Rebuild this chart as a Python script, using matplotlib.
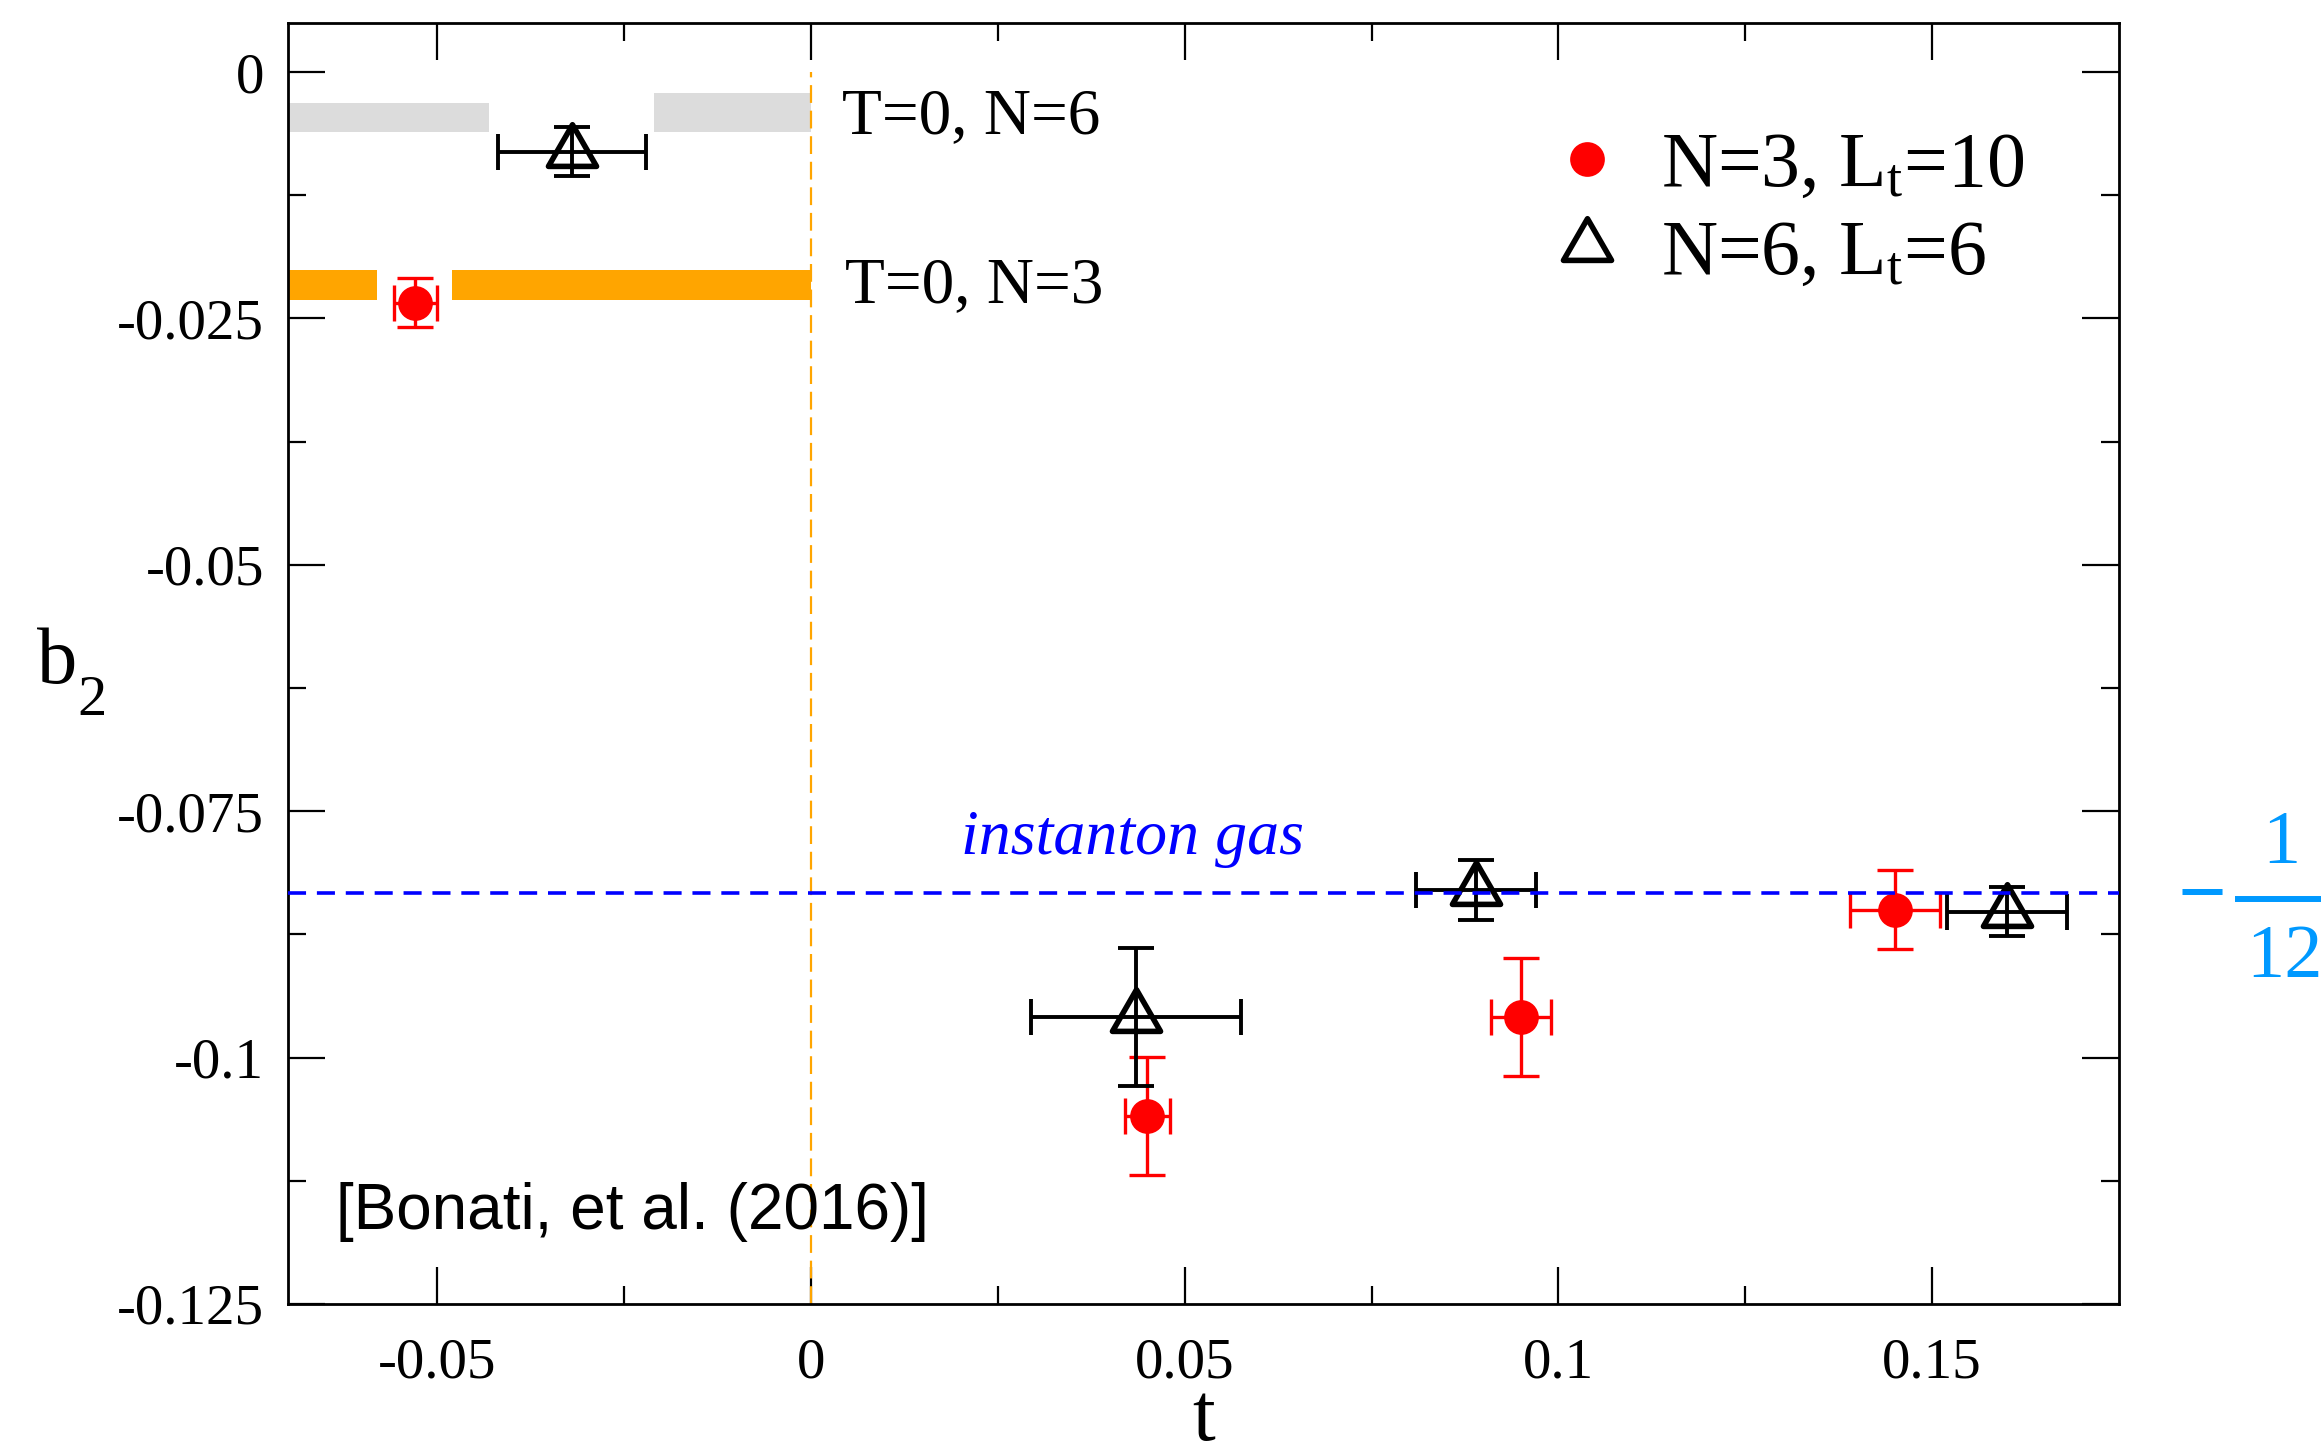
import matplotlib
matplotlib.use("Agg")
import matplotlib.pyplot as plt
from matplotlib.path import Path
from matplotlib.lines import Line2D

# DATA

# N=3, Lt=10 (red circles)
t_n3 = [-0.0529, 0.0450, 0.0950, 0.1450]
b_n3 = [-0.0234, -0.1059, -0.0959, -0.0850]
dt_n3 = [0.0029, 0.0030, 0.0040, 0.0060]
db_n3 = [0.0025, 0.0060, 0.0060, 0.0040]

# N=6, Lt=6 (open triangles)
t_n6 = [-0.0320, 0.0435, 0.0890, 0.1600]
b_n6 = [-0.0081, -0.0959, -0.0830, -0.0852]
dt_n6 = [0.0099, 0.0140, 0.0080, 0.0080]
db_n6 = [0.0025, 0.0070, 0.0030, 0.0025]

# T=0 bands: (t_start, t_end, lower, upper) pieces
band_n6 = [(-0.070, -0.043, -0.0061, -0.0031),
           (-0.021, 0.000, -0.0061, -0.0021)]
band_n3 = [(-0.070, -0.058, -0.0231, -0.0201),
           (-0.048, 0.000, -0.0231, -0.0201)]

instanton_gas = -1.0 / 12.0
t_zero = 0.0

xticks = [-0.05, 0.0, 0.05, 0.1, 0.15]
xtick_labels = ["-0.05", "0", "0.05", "0.1", "0.15"]
xminor = [-0.025, 0.025, 0.075, 0.125]
yticks = [0.0, -0.025, -0.05, -0.075, -0.1, -0.125]
ytick_labels = ["0", "-0.025", "-0.05", "-0.075", "-0.1", "-0.125"]
yminor = [-0.0125, -0.0375, -0.0625, -0.0875, -0.1125]

XLIM = (-0.07, 0.175)
YLIM = (-0.125, 0.005)

# STYLE

plt.rcParams.update({
    "font.family": ["Liberation Serif", "DejaVu Serif"],
    "mathtext.fontset": "custom",
    "mathtext.rm": "Liberation Serif",
    "mathtext.it": "Liberation Serif:italic",
    "mathtext.bf": "Liberation Serif:bold",
    "axes.unicode_minus": False,
})

RED = "#ff0000"
ORANGE = "#ffa500"
GREY = "#dcdcdc"
BLUE = "#0000ff"
LIGHTBLUE = "#0099ff"

TRIANGLE = Path([(0, 1), (-0.866, -0.5), (0.866, -0.5), (0, 1)],
                [Path.MOVETO, Path.LINETO, Path.LINETO, Path.CLOSEPOLY])
CIRCLE_MS = 25
TRI_MS = 40
TRI_MEW = 4.0

W, H = 2321, 1449
fig = plt.figure(figsize=(W / 100, H / 100), dpi=100)
ax = fig.add_axes([0.1239, 0.1001, 0.7891, 0.8842])

# bands for the T=0 results
for t0, t1, lo, hi in band_n6:
    ax.fill_between([t0, t1], lo, hi, color=GREY, lw=0, zorder=1)
for t0, t1, lo, hi in band_n3:
    ax.fill_between([t0, t1], lo, hi, color=ORANGE, lw=0, zorder=1)

ax.vlines(t_zero, YLIM[0], 0.0, color=ORANGE, lw=1.6,
          linestyles=(0, (8, 3.5)), zorder=2)

ax.errorbar(t_n3, b_n3, xerr=dt_n3, yerr=db_n3, fmt="none", ecolor=RED,
            elinewidth=2.4, capsize=13, capthick=2.4, zorder=4)
ax.plot(t_n3, b_n3, ls="none", marker="o", ms=CIRCLE_MS, mew=0, color=RED,
        zorder=5)
ax.errorbar(t_n6, b_n6, xerr=dt_n6, yerr=db_n6, fmt="none", ecolor="black",
            elinewidth=2.8, capsize=13, capthick=2.8, zorder=4)
ax.plot(t_n6, b_n6, ls="none", marker=TRIANGLE, ms=TRI_MS, mfc="none",
        mec="black", mew=TRI_MEW, zorder=5)

ax.axhline(instanton_gas, color=BLUE, lw=2.6, ls=(0, (5, 3)), zorder=6)

# annotations
ax.text(0.0042, -0.0062, "T=0, N=6", fontsize=47, ha="left", va="baseline")
ax.text(0.0046, -0.0233, "T=0, N=3", fontsize=47, ha="left", va="baseline")
ax.text(0.0430, -0.0793, "instanton gas", fontsize=46, style="italic",
        color=BLUE, ha="center", va="baseline")
ax.text(-0.0635, -0.1174, "[Bonati, et al. (2016)]", fontsize=46,
        family="Liberation Sans", ha="left", va="baseline")

# -1/12 written outside the frame, next to the instanton-gas line
fig.text(2178 / W, 1 - 921 / H, "\u2212", fontsize=62, fontweight="bold",
         color=LIGHTBLUE, ha="left", va="baseline")
fig.text(2281 / W, 1 - 863 / H, "1", fontsize=55, color=LIGHTBLUE,
         ha="center", va="baseline")
fig.text(2246 / W, 1 - 977 / H, "12", fontsize=55, color=LIGHTBLUE,
         ha="left", va="baseline")
fig.add_artist(Line2D([2235 / W, 1.0], [1 - 899 / H, 1 - 899 / H],
                      color=LIGHTBLUE, lw=4.3, solid_capstyle="butt"))

# legend
handles = [
    Line2D([], [], ls="none", marker="o", ms=CIRCLE_MS, mew=0, color=RED),
    Line2D([], [], ls="none", marker=TRIANGLE, ms=TRI_MS, mfc="none",
           mec="black", mew=TRI_MEW),
]
labels = [r"N=3, L$_\mathrm{t}$=10", r"N=6, L$_\mathrm{t}$=6"]
ax.legend(handles, labels, loc="center left", bbox_to_anchor=(0.688, 0.853),
          frameon=False, fontsize=56, borderpad=0, handlelength=1.0,
          handletextpad=0.46, labelspacing=0.2, borderaxespad=0)

# axes
ax.set_xlim(*XLIM)
ax.set_ylim(*YLIM)
ax.set_xticks(xticks)
ax.set_xticklabels(xtick_labels)
ax.set_xticks(xminor, minor=True)
ax.set_yticks(yticks)
ax.set_yticklabels(ytick_labels)
ax.set_yticks(yminor, minor=True)

ax.tick_params(which="both", direction="in", top=True, right=True,
               width=1.6, labelsize=41)
ax.tick_params(which="major", length=26.5)
ax.tick_params(which="minor", length=13)
ax.tick_params(axis="x", which="major", pad=24)
ax.tick_params(axis="y", which="major", pad=17)
for sp in ax.spines.values():
    sp.set_linewidth(2.0)

ax.set_xlabel("t", fontsize=59, ha="center", va="baseline")
ax.xaxis.set_label_coords(0.5, -0.106)
# y label "b" with a low-set subscript "2"
ax.set_ylabel("b", fontsize=58, rotation=0, ha="left", va="baseline")
ax.yaxis.set_label_coords(-0.1368, 0.4847)
ax.text(-0.1149, 0.4597, "2", fontsize=42, transform=ax.transAxes,
        ha="left", va="baseline")

fig.savefig("out.png", dpi=100)
